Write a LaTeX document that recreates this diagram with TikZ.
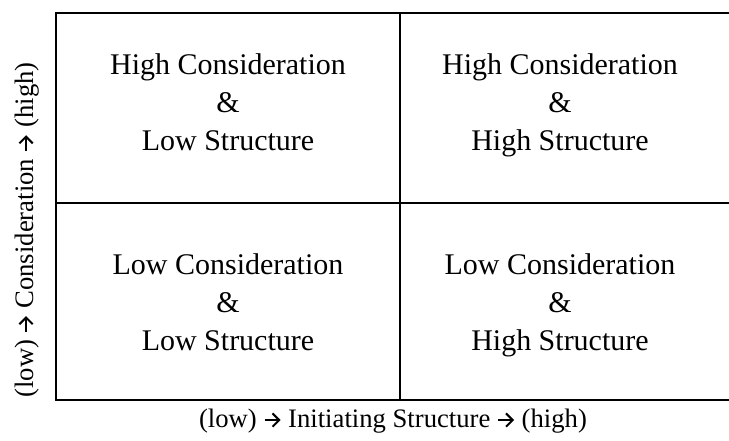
\documentclass[tikz,border=0pt]{standalone}
\usepackage{fontspec}
\setmainfont{Liberation Serif}
\usetikzlibrary{positioning,arrows.meta}
% thick arrow with an open head, used in the axis captions
\newcommand{\toarr}{\tikz[baseline=-0.6ex]\draw[line width=1.5pt, -{Straight Barb[length=5pt, width=10pt, line width=1.5pt]}] (0pt,0pt) -- (12pt,0pt);}
\tikzset{
	cell/.style={align=center, text depth=0pt, font=\fontsize{22.5}{28.5}\selectfont},
	axis/.style={font=\fontsize{20}{22}\selectfont}
}

\begin{document}
\begin{tikzpicture}[x=0.75pt, y=-0.75pt]
			%%%%% START %%%%%
			
			\useasboundingbox (0, 0) rectangle (729, 440);
			
			% grid lines
			\draw[line width=1.7pt] (56, 13) -- (729, 13);
			\draw[line width=1.7pt] (56, 203) -- (729, 203);
			\draw[line width=1.7pt] (56, 400) -- (729, 400);
			\draw[line width=1.7pt] (56, 12) -- (56, 401);
			\draw[line width=1.7pt] (400, 13) -- (400, 400);
			
			% the four quadrants
			\node[cell] (hclow) at (228, 102) {High Consideration\\\&\\Low Structure};
			\node[cell] (hchigh) at (560, 102) {High Consideration\\\&\\High Structure};
			\node[cell] (lclow) at (228, 302) {Low Consideration\\\&\\Low Structure};
			\node[cell] (lchigh) at (560, 302) {Low Consideration\\\&\\High Structure};
			
			% axis labels
			\node[axis, rotate=90] (yaxis) at (27, 230) {(low) \toarr{} Consideration \toarr{} (high)};
			\node[axis] (xaxis) at (393, 421) {(low) \toarr{} Initiating Structure \toarr{} (high)};
			
			%%%%% END %%%%%
		\end{tikzpicture}
\end{document}
